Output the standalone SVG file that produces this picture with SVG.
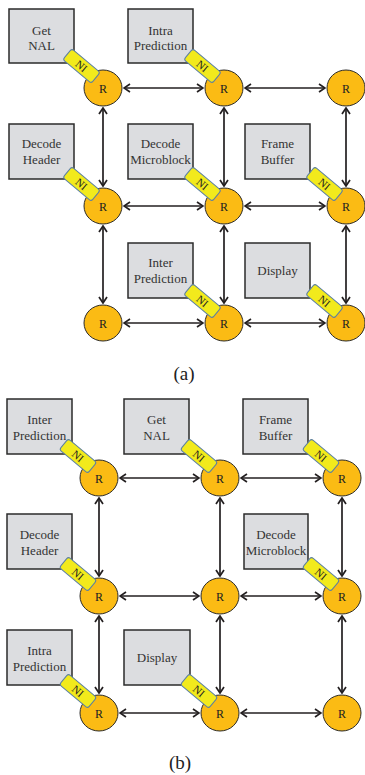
<svg xmlns="http://www.w3.org/2000/svg" width="365" height="775" viewBox="0 0 365 775">
<defs>
<style>
.box{fill:#dcdde0;stroke:#2b2b2b;stroke-width:1.5}
.bt{font-family:"Liberation Serif","Times New Roman",serif;font-size:13px;fill:#333;text-anchor:middle}
.r{fill:#fbbb14;stroke:#2b2b2b;stroke-width:1}
.rt{font-family:"Liberation Serif","Times New Roman",serif;font-size:12px;fill:#222;text-anchor:middle}
.ni{fill:#f2ea1c;stroke:#5b7fa3;stroke-width:1}
.nt{font-family:"Liberation Serif","Times New Roman",serif;font-size:11px;fill:#222;text-anchor:middle}
.ln{stroke:#231f20;stroke-width:1.7;fill:none;marker-start:url(#ah);marker-end:url(#ah)}
.cap{font-family:"Liberation Serif","Times New Roman",serif;font-size:19px;fill:#222;text-anchor:middle}
</style>
<marker id="ah" viewBox="0 0 8 10" refX="7" refY="5" markerWidth="8" markerHeight="10" markerUnits="userSpaceOnUse" orient="auto-start-reverse">
<path d="M1,1 L7,5 L1,9" fill="none" stroke="#231f20" stroke-width="1.7"/>
</marker>
</defs>

<g id="connectors">
<line class="ln" x1="124" y1="88" x2="203" y2="88"/>
<line class="ln" x1="245" y1="88" x2="325" y2="88"/>
<line class="ln" x1="124" y1="206" x2="203" y2="206"/>
<line class="ln" x1="245" y1="206" x2="325" y2="206"/>
<line class="ln" x1="124" y1="323" x2="203" y2="323"/>
<line class="ln" x1="245" y1="323" x2="325" y2="323"/>
<line class="ln" x1="103" y1="108" x2="103" y2="186"/>
<line class="ln" x1="224" y1="108" x2="224" y2="186"/>
<line class="ln" x1="346" y1="108" x2="346" y2="186"/>
<line class="ln" x1="103" y1="226" x2="103" y2="303"/>
<line class="ln" x1="224" y1="226" x2="224" y2="303"/>
<line class="ln" x1="346" y1="226" x2="346" y2="303"/>
<line class="ln" x1="120" y1="478" x2="199" y2="478"/>
<line class="ln" x1="241" y1="478" x2="321" y2="478"/>
<line class="ln" x1="120" y1="596" x2="199" y2="596"/>
<line class="ln" x1="241" y1="596" x2="321" y2="596"/>
<line class="ln" x1="120" y1="713" x2="199" y2="713"/>
<line class="ln" x1="241" y1="713" x2="321" y2="713"/>
<line class="ln" x1="99" y1="498" x2="99" y2="576"/>
<line class="ln" x1="220" y1="498" x2="220" y2="576"/>
<line class="ln" x1="342" y1="498" x2="342" y2="576"/>
<line class="ln" x1="99" y1="616" x2="99" y2="693"/>
<line class="ln" x1="220" y1="616" x2="220" y2="693"/>
<line class="ln" x1="342" y1="616" x2="342" y2="693"/>
</g>

<g id="a-getnal"><rect class="box" x="9" y="9" width="65" height="54"/><text class="bt" x="41.5" y="34.5">Get</text><text class="bt" x="41.5" y="49.5">NAL</text></g>
<g id="a-intra"><rect class="box" x="128" y="9" width="65" height="54"/><text class="bt" x="160.5" y="34.5">Intra</text><text class="bt" x="160.5" y="49.5">Prediction</text></g>
<g id="a-dechdr"><rect class="box" x="9" y="124" width="65" height="55"/><text class="bt" x="41.5" y="148">Decode</text><text class="bt" x="41.5" y="163.5">Header</text></g>
<g id="a-decmb"><rect class="box" x="128" y="124" width="65" height="55"/><text class="bt" x="160.5" y="148">Decode</text><text class="bt" x="160.5" y="163.5">Microblock</text></g>
<g id="a-frame"><rect class="box" x="245" y="124" width="65" height="55"/><text class="bt" x="277.5" y="148">Frame</text><text class="bt" x="277.5" y="163.5">Buffer</text></g>
<g id="a-inter"><rect class="box" x="128" y="243" width="65" height="55"/><text class="bt" x="160.5" y="267">Inter</text><text class="bt" x="160.5" y="282.5">Prediction</text></g>
<g id="a-display"><rect class="box" x="245" y="243" width="65" height="55"/><text class="bt" x="277.5" y="275">Display</text></g>

<g id="a-r11"><ellipse class="r" cx="103" cy="88" rx="19" ry="18"/><text class="rt" x="103" y="93">R</text></g>
<g id="a-r12"><ellipse class="r" cx="224" cy="88" rx="19" ry="18"/><text class="rt" x="224" y="93">R</text></g>
<g id="a-r13"><ellipse class="r" cx="346" cy="88" rx="19" ry="18"/><text class="rt" x="346" y="93">R</text></g>
<g id="a-r21"><ellipse class="r" cx="103" cy="206" rx="19" ry="18"/><text class="rt" x="103" y="211">R</text></g>
<g id="a-r22"><ellipse class="r" cx="224" cy="206" rx="19" ry="18"/><text class="rt" x="224" y="211">R</text></g>
<g id="a-r23"><ellipse class="r" cx="346" cy="206" rx="19" ry="18"/><text class="rt" x="346" y="211">R</text></g>
<g id="a-r31"><ellipse class="r" cx="103" cy="323" rx="19" ry="18"/><text class="rt" x="103" y="328">R</text></g>
<g id="a-r32"><ellipse class="r" cx="224" cy="323" rx="19" ry="18"/><text class="rt" x="224" y="328">R</text></g>
<g id="a-r33"><ellipse class="r" cx="346" cy="323" rx="19" ry="18"/><text class="rt" x="346" y="328">R</text></g>

<g id="a-ni11" transform="translate(81.5,66) rotate(40)"><rect class="ni" x="-18.5" y="-7" width="37" height="14" rx="2.5"/><text class="nt" x="0" y="4">NI</text></g>
<g id="a-ni12" transform="translate(202.5,66) rotate(40)"><rect class="ni" x="-18.5" y="-7" width="37" height="14" rx="2.5"/><text class="nt" x="0" y="4">NI</text></g>
<g id="a-ni21" transform="translate(81.5,184) rotate(40)"><rect class="ni" x="-18.5" y="-7" width="37" height="14" rx="2.5"/><text class="nt" x="0" y="4">NI</text></g>
<g id="a-ni22" transform="translate(202.5,184) rotate(40)"><rect class="ni" x="-18.5" y="-7" width="37" height="14" rx="2.5"/><text class="nt" x="0" y="4">NI</text></g>
<g id="a-ni23" transform="translate(324.5,184) rotate(40)"><rect class="ni" x="-18.5" y="-7" width="37" height="14" rx="2.5"/><text class="nt" x="0" y="4">NI</text></g>
<g id="a-ni32" transform="translate(202.5,301) rotate(40)"><rect class="ni" x="-18.5" y="-7" width="37" height="14" rx="2.5"/><text class="nt" x="0" y="4">NI</text></g>
<g id="a-ni33" transform="translate(324.5,301) rotate(40)"><rect class="ni" x="-18.5" y="-7" width="37" height="14" rx="2.5"/><text class="nt" x="0" y="4">NI</text></g>

<text class="cap" x="184" y="380">(a)</text>

<g id="b-inter"><rect class="box" x="7" y="399" width="65" height="55"/><text class="bt" x="39.5" y="424">Inter</text><text class="bt" x="39.5" y="439.5">Prediction</text></g>
<g id="b-getnal"><rect class="box" x="124" y="399" width="65" height="55"/><text class="bt" x="156.5" y="424">Get</text><text class="bt" x="156.5" y="439.5">NAL</text></g>
<g id="b-frame"><rect class="box" x="243" y="399" width="65" height="55"/><text class="bt" x="275.5" y="424">Frame</text><text class="bt" x="275.5" y="439.5">Buffer</text></g>
<g id="b-dechdr"><rect class="box" x="7" y="514" width="65" height="55"/><text class="bt" x="39.5" y="539">Decode</text><text class="bt" x="39.5" y="554.5">Header</text></g>
<g id="b-decmb"><rect class="box" x="244" y="514" width="64" height="55"/><text class="bt" x="276" y="539">Decode</text><text class="bt" x="276" y="554.5">Microblock</text></g>
<g id="b-intra"><rect class="box" x="7" y="630" width="65" height="55"/><text class="bt" x="39.5" y="655">Intra</text><text class="bt" x="39.5" y="670.5">Prediction</text></g>
<g id="b-display"><rect class="box" x="124" y="630" width="66" height="55"/><text class="bt" x="157" y="662">Display</text></g>

<g id="b-r11"><ellipse class="r" cx="99" cy="478" rx="19" ry="18"/><text class="rt" x="99" y="483">R</text></g>
<g id="b-r12"><ellipse class="r" cx="220" cy="478" rx="19" ry="18"/><text class="rt" x="220" y="483">R</text></g>
<g id="b-r13"><ellipse class="r" cx="342" cy="478" rx="19" ry="18"/><text class="rt" x="342" y="483">R</text></g>
<g id="b-r21"><ellipse class="r" cx="99" cy="596" rx="19" ry="18"/><text class="rt" x="99" y="601">R</text></g>
<g id="b-r22"><ellipse class="r" cx="220" cy="596" rx="19" ry="18"/><text class="rt" x="220" y="601">R</text></g>
<g id="b-r23"><ellipse class="r" cx="342" cy="596" rx="19" ry="18"/><text class="rt" x="342" y="601">R</text></g>
<g id="b-r31"><ellipse class="r" cx="99" cy="713" rx="19" ry="18"/><text class="rt" x="99" y="718">R</text></g>
<g id="b-r32"><ellipse class="r" cx="220" cy="713" rx="19" ry="18"/><text class="rt" x="220" y="718">R</text></g>
<g id="b-r33"><ellipse class="r" cx="342" cy="713" rx="19" ry="18"/><text class="rt" x="342" y="718">R</text></g>

<g id="b-ni11" transform="translate(78,456) rotate(40)"><rect class="ni" x="-18.5" y="-7" width="37" height="14" rx="2.5"/><text class="nt" x="0" y="4">NI</text></g>
<g id="b-ni12" transform="translate(199,456) rotate(40)"><rect class="ni" x="-18.5" y="-7" width="37" height="14" rx="2.5"/><text class="nt" x="0" y="4">NI</text></g>
<g id="b-ni13" transform="translate(321,456) rotate(40)"><rect class="ni" x="-18.5" y="-7" width="37" height="14" rx="2.5"/><text class="nt" x="0" y="4">NI</text></g>
<g id="b-ni21" transform="translate(78,574) rotate(40)"><rect class="ni" x="-18.5" y="-7" width="37" height="14" rx="2.5"/><text class="nt" x="0" y="4">NI</text></g>
<g id="b-ni23" transform="translate(321,574) rotate(40)"><rect class="ni" x="-18.5" y="-7" width="37" height="14" rx="2.5"/><text class="nt" x="0" y="4">NI</text></g>
<g id="b-ni31" transform="translate(78,691) rotate(40)"><rect class="ni" x="-18.5" y="-7" width="37" height="14" rx="2.5"/><text class="nt" x="0" y="4">NI</text></g>
<g id="b-ni32" transform="translate(199,691) rotate(40)"><rect class="ni" x="-18.5" y="-7" width="37" height="14" rx="2.5"/><text class="nt" x="0" y="4">NI</text></g>

<text class="cap" x="180" y="769">(b)</text>
</svg>
